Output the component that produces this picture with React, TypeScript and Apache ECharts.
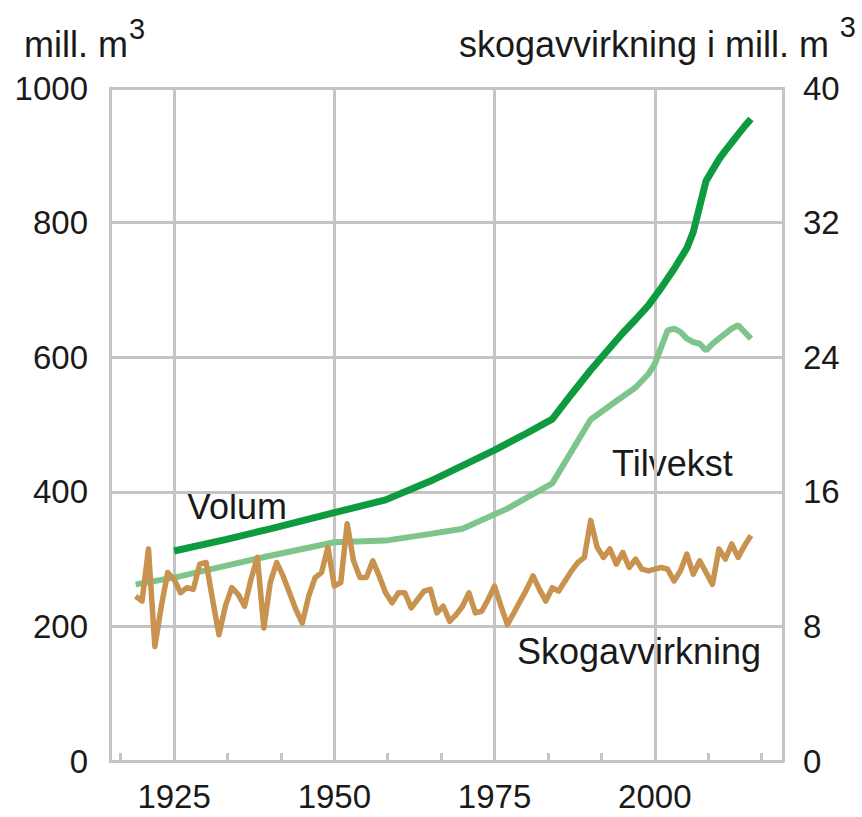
import React, { useEffect, useRef } from "react";
import * as echarts from "echarts";

const volumYears = [1925, 1933, 1940, 1950, 1958, 1965, 1970, 1975, 1980, 1984, 1987, 1990, 1993, 1995, 1997, 1999, 2001, 2003, 2005, 2006, 2007, 2008, 2009, 2010, 2011, 2012, 2013, 2014, 2015];
const volumValues = [312, 329, 345, 369, 388, 416, 439, 462, 487, 508, 545, 581, 614, 636, 656, 677, 703, 731, 762, 786, 824, 862, 878, 894, 907, 919, 931, 943, 954];

const tilvekstYears = [1919, 1925, 1933, 1940, 1950, 1958, 1965, 1970, 1977, 1984, 1990, 1994, 1997, 1999, 2000, 2001, 2002, 2003, 2004, 2005, 2006, 2007, 2008, 2009, 2010, 2011, 2012, 2013, 2014, 2015];
const tilvekstValues = [10.5, 10.9, 11.6, 12.2, 13.0, 13.1, 13.5, 13.8, 15.0, 16.5, 20.3, 21.4, 22.2, 23.0, 23.6, 24.6, 25.6, 25.7, 25.5, 25.1, 24.9, 24.8, 24.4, 24.8, 25.1, 25.4, 25.7, 25.9, 25.5, 25.1];

const avvirkningStartYear = 1919;
const avvirkningValues = [
  9.8, 9.5, 12.6, 6.8, 9.2, 11.2, 10.8, 10.0, 10.3, 10.2,
  11.7, 11.8, 9.6, 7.5, 9.2, 10.3, 9.9, 9.2, 10.8, 12.1,
  7.9, 10.6, 11.8, 11.0, 10.0, 9.0, 8.2, 9.8, 10.9, 11.2,
  12.7, 10.4, 10.6, 14.1, 11.9, 10.9, 10.9, 11.9, 11.0, 10.0,
  9.4, 10.0, 10.0, 9.1, 9.6, 10.1, 10.2, 8.8, 9.2, 8.3,
  8.7, 9.2, 10.0, 8.8, 8.9, 9.6, 10.4, 9.2, 8.1, 8.8,
  9.5, 10.2, 11.0, 10.2, 9.5, 10.3, 10.1, 10.7, 11.3, 11.8,
  12.1, 14.3, 12.7, 12.1, 12.6, 11.7, 12.4, 11.5, 12.0, 11.4,
  11.3, 11.4, 11.5, 11.4, 10.7, 11.3, 12.3, 11.1, 11.9, 11.2,
  10.5, 12.6, 12.0, 12.9, 12.1, 12.8, 13.4,
];

const xLabelValues = [1925, 1950, 1975, 2000];
const xMinorTickValues = [1916.67, 1925, 1933.33, 1941.67, 1950, 1958.33, 1966.67, 1975, 1983.33, 1991.67, 2000, 2008.33, 2016.67];

const GRID_COLOR = "#c4c4c4";
const TEXT_COLOR = "#1a1a1a";
const FONT = "'Liberation Sans', Arial, sans-serif";

export default function App() {
  const ref = useRef<HTMLDivElement>(null);

  useEffect(() => {
    if (!ref.current) return;
    const chart = echarts.init(ref.current, undefined, { renderer: "svg" });

    const volumData = volumYears.map((y, i) => [y, volumValues[i]]);
    const tilvekstData = tilvekstYears.map((y, i) => [y, tilvekstValues[i]]);
    const avvirkningData = avvirkningValues.map((v, i) => [avvirkningStartYear + i, v]);

    const labelStyle = (fs: number) => ({
      fill: TEXT_COLOR,
      fontSize: fs,
      fontFamily: FONT,
      verticalAlign: "middle",
    });
    const plain = (v: number) => String(v);

    chart.setOption({
      animation: false,
      backgroundColor: "#ffffff",
      textStyle: { fontFamily: FONT },
      grid: { left: 110, right: 79, top: 88, bottom: 56, containLabel: false },
      xAxis: [
        {
          type: "value",
          min: 1915,
          max: 2020,
          position: "bottom",
          axisLine: { show: true, lineStyle: { color: GRID_COLOR, width: 3 } },
          axisTick: {
            show: true,
            inside: true,
            length: 8,
            customValues: xMinorTickValues,
            lineStyle: { color: GRID_COLOR, width: 3 },
          },
          axisLabel: { show: false },
          splitLine: { show: false },
        },
        {
          type: "value",
          min: 1915,
          max: 2020,
          position: "bottom",
          axisLine: { show: false },
          axisTick: { show: false, customValues: xLabelValues },
          axisLabel: {
            show: true,
            customValues: xLabelValues,
            formatter: plain,
            color: TEXT_COLOR,
            fontSize: 33,
            fontFamily: FONT,
            margin: 19,
          },
          splitLine: { show: true, lineStyle: { color: GRID_COLOR, width: 3 } },
        },
      ],
      yAxis: [
        {
          type: "value",
          min: 0,
          max: 1000,
          interval: 200,
          position: "left",
          axisLine: { show: true, lineStyle: { color: GRID_COLOR, width: 3 } },
          axisTick: { show: false },
          axisLabel: { color: TEXT_COLOR, fontSize: 33, fontFamily: FONT, margin: 22, formatter: plain },
          splitLine: { show: true, lineStyle: { color: GRID_COLOR, width: 3 } },
        },
        {
          type: "value",
          min: 0,
          max: 40,
          interval: 8,
          position: "right",
          axisLine: { show: true, lineStyle: { color: GRID_COLOR, width: 3 } },
          axisTick: { show: false },
          axisLabel: { color: TEXT_COLOR, fontSize: 33, fontFamily: FONT, margin: 20, formatter: plain },
          splitLine: { show: false },
        },
      ],
      series: [
        {
          name: "Tilvekst",
          type: "line",
          xAxisIndex: 0,
          yAxisIndex: 1,
          data: tilvekstData,
          showSymbol: false,
          lineStyle: { color: "#7dc58c", width: 6 },
          itemStyle: { color: "#7dc58c" },
          z: 2,
        },
        {
          name: "Volum",
          type: "line",
          xAxisIndex: 0,
          yAxisIndex: 0,
          data: volumData,
          showSymbol: false,
          lineStyle: { color: "#0e9a3e", width: 7 },
          itemStyle: { color: "#0e9a3e" },
          z: 3,
        },
        {
          name: "Skogavvirkning",
          type: "line",
          xAxisIndex: 0,
          yAxisIndex: 1,
          data: avvirkningData,
          showSymbol: false,
          lineStyle: { color: "#c8924f", width: 5.5, join: "round" },
          itemStyle: { color: "#c8924f" },
          z: 4,
        },
      ],
      graphic: [
        { type: "text", left: 24, top: 26, style: { text: "mill. m", fill: TEXT_COLOR, fontSize: 36, fontFamily: FONT } },
        { type: "text", left: 129, top: 14, style: { text: "3", fill: TEXT_COLOR, fontSize: 29, fontFamily: FONT } },
        { type: "text", right: 33, top: 26, style: { text: "skogavvirkning i mill. m", fill: TEXT_COLOR, fontSize: 36, fontFamily: FONT } },
        { type: "text", right: 6, top: 12, style: { text: "3", fill: TEXT_COLOR, fontSize: 29, fontFamily: FONT } },
        { type: "text", x: 187, y: 506, style: { ...labelStyle(36), text: "Volum" } },
        { type: "text", x: 612, y: 463, style: { ...labelStyle(36), text: "Tilvekst" } },
        { type: "text", x: 517, y: 651, style: { ...labelStyle(36), text: "Skogavvirkning" } },
      ],
    });

    return () => chart.dispose();
  }, []);

  return (
    <div
      ref={ref}
      style={{ position: "fixed", left: 0, top: 0, width: 862, height: 817, background: "#fff" }}
    />
  );
}
